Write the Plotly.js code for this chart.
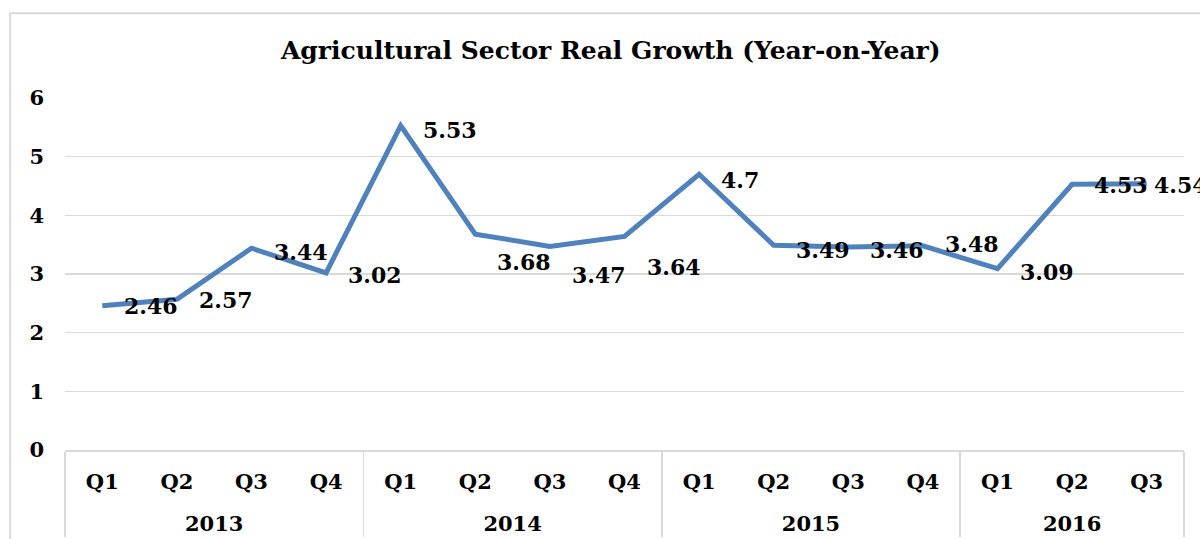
<!DOCTYPE html>
<html>
<head>
<meta charset="utf-8">
<script src="https://cdn.plot.ly/plotly-3.0.1.min.js"></script>
<style>
  html, body { margin: 0; padding: 0; background: #ffffff; }
  #chart { width: 1200px; height: 539px; }
</style>
</head>
<body>
<div id="chart"></div>
<script>
// ---- data ----
const yearLabels = ['2013','2013','2013','2013','2014','2014','2014','2014','2015','2015','2015','2015','2016','2016','2016'];
const quarterLabels = ['Q1','Q2','Q3','Q4','Q1','Q2','Q3','Q4','Q1','Q2','Q3','Q4','Q1','Q2','Q3'];
const growth = [2.46, 2.57, 3.44, 3.02, 5.53, 3.68, 3.47, 3.64, 4.7, 3.49, 3.46, 3.48, 3.09, 4.53, 4.54];
const labelText = ['2.46','2.57','3.44','3.02','5.53','3.68','3.47','3.64','4.7','3.49','3.46','3.48','3.09','4.53','4.54'];

// ---- style ----
const FONT = '"DejaVu Serif", "Liberation Serif", serif';
const labelYShift = [0, -1, -4, -2, -4, -28, -29, -31, -6, -5, -3, 2, -3, -1, -1];
const labelXShift = [20, 20, 20, 20, 20, 20, 20, 20, 20, 20, 20, 20, 20, 20, 5];

const trace = {
  type: 'scatter',
  mode: 'lines',
  x: [yearLabels.map(y => '<br>' + y), quarterLabels],
  y: growth,
  line: { color: '#4f81bd', width: 5 },
  hoverinfo: 'skip'
};

const annotations = growth.map((v, i) => ({
  x: i, y: v, xref: 'x', yref: 'y',
  text: labelText[i],
  showarrow: false,
  xanchor: 'left', yanchor: 'middle',
  xshift: labelXShift[i], yshift: labelYShift[i],
  font: { family: FONT, size: 22, color: '#000000', weight: 'bold' }
}));

const layout = {
  width: 1200, height: 539,
  margin: { l: 65, r: 16, t: 98, b: 89 },
  paper_bgcolor: '#ffffff', plot_bgcolor: '#ffffff',
  showlegend: false,
  title: {
    text: '<b>Agricultural Sector Real Growth (Year-on-Year)</b>',
    x: 0.509, xanchor: 'center', y: 0.907, yanchor: 'middle',
    font: { family: FONT, size: 25, color: '#000000' }
  },
  xaxis: {
    type: 'multicategory',
    range: [-0.5, 14.5],
    showline: true, linecolor: '#d9d9d9', linewidth: 1.5,
    showgrid: false, ticks: '',
    ticklabelstandoff: 12,
    showdividers: true, dividercolor: '#d9d9d9', dividerwidth: 1.5,
    tickfont: { family: FONT, size: 21, color: '#000000', weight: 'bold' }
  },
  yaxis: {
    range: [0, 6], dtick: 1, tick0: 0,
    showline: false, zeroline: false,
    showgrid: true, gridcolor: '#d9d9d9', gridwidth: 1.5,
    ticks: '', ticklabelstandoff: 20,
    tickfont: { family: FONT, size: 21, color: '#000000', weight: 'bold' }
  },
  annotations: annotations,
  shapes: [{
    type: 'rect', xref: 'paper', yref: 'paper',
    x0: -0.049, x1: 1.05, y0: -0.3, y1: 1.241,
    line: { color: '#d9d9d9', width: 2 }, fillcolor: 'rgba(0,0,0,0)', layer: 'below'
  }]
};

Plotly.newPlot('chart', [trace], layout, { staticPlot: true, displayModeBar: false });
</script>
</body>
</html>
